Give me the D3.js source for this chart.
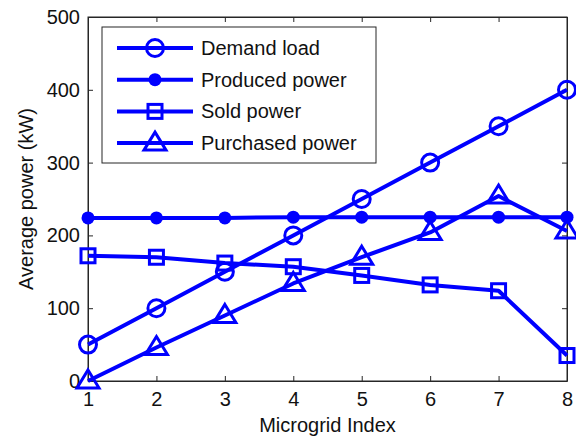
<!DOCTYPE html>
<html>
<head>
<meta charset="utf-8">
<script src="https://cdn.jsdelivr.net/npm/d3@7"></script>
<style>
  body { margin: 0; background: #fff; }
  text { font-family: "Liberation Sans", Arial, sans-serif; }
</style>
</head>
<body>
<svg width="576" height="437"></svg>
<script>
// chart values
const microgrids = [1, 2, 3, 4, 5, 6, 7, 8];
const demandLoad = [50, 100, 150, 200, 250, 300, 350, 400];
const producedPower = [224, 224, 224, 225, 225, 225, 225, 225];
const soldPower = [172, 170, 162, 157, 145, 132, 124, 35];
const purchasedPower = [0, 46, 90, 134, 170, 204, 254, 206];
const yTicks = [0, 100, 200, 300, 400, 500];
const seriesNames = ["Demand load", "Produced power", "Sold power", "Purchased power"];
const seriesMarkers = ["circle", "dot", "square", "triangle"];

const width = 576, height = 437;
const margin = {top: 17, right: 9, bottom: 56, left: 88};
const blue = "#0000ff";
const fontSize = "20px";

const svg = d3.select("svg");

const x = d3.scaleLinear()
    .domain([1, 8])
    .range([margin.left, width - margin.right]);
const y = d3.scaleLinear()
    .domain([0, 500])
    .range([height - margin.bottom, margin.top]);

// box
svg.append("rect")
    .attr("x", x(1)).attr("y", y(500))
    .attr("width", x(8) - x(1)).attr("height", y(0) - y(500))
    .attr("fill", "none").attr("stroke", "#262626").attr("stroke-width", 1);

const xAxis = svg.append("g")
    .attr("transform", `translate(0,${y(0)})`)
    .call(d3.axisBottom(x).tickValues(microgrids).tickFormat(d3.format("d"))
        .tickSizeInner(-5).tickSizeOuter(0).tickPadding(11));
const xAxisTop = svg.append("g")
    .attr("transform", `translate(0,${y(500)})`)
    .call(d3.axisTop(x).tickValues(microgrids).tickSizeInner(-5).tickSizeOuter(0).tickFormat(""));
const yAxis = svg.append("g")
    .attr("transform", `translate(${x(1)},0)`)
    .call(d3.axisLeft(y).tickValues(yTicks).tickFormat(d3.format("d"))
        .tickSizeInner(-5).tickSizeOuter(0).tickPadding(8));
const yAxisRight = svg.append("g")
    .attr("transform", `translate(${x(8)},0)`)
    .call(d3.axisRight(y).tickValues(yTicks).tickSizeInner(-5).tickSizeOuter(0).tickFormat(""));

[xAxis, xAxisTop, yAxis, yAxisRight].forEach(g => {
    g.select(".domain").attr("stroke", "#262626");
    g.selectAll(".tick line").attr("stroke", "#262626");
    g.selectAll(".tick text").attr("fill", "#111").style("font-size", fontSize)
        .style("font-family", "'Liberation Sans', Arial, sans-serif");
});

svg.append("text")
    .attr("x", (x(1) + x(8)) / 2).attr("y", 432)
    .attr("text-anchor", "middle")
    .style("font-size", fontSize).attr("fill", "#111")
    .text("Microgrid Index");

svg.append("text")
    .attr("transform", `translate(33,${(y(0) + y(500)) / 2}) rotate(-90)`)
    .attr("text-anchor", "middle")
    .style("font-size", fontSize).attr("fill", "#111")
    .text("Average power (kW)");

function drawMarker(g, kind, cx, cy) {
    if (kind == "circle") {
        g.append("circle").attr("cx", cx).attr("cy", cy).attr("r", 8.5)
            .attr("fill", "none").attr("stroke", blue).attr("stroke-width", 3);
    } else if (kind == "dot") {
        g.append("circle").attr("cx", cx).attr("cy", cy).attr("r", 6.5)
            .attr("fill", blue);
    } else if (kind == "square") {
        g.append("rect").attr("x", cx - 7).attr("y", cy - 7)
            .attr("width", 14).attr("height", 14)
            .attr("fill", "none").attr("stroke", blue).attr("stroke-width", 3);
    } else {
        g.append("path")
            .attr("d", `M${cx},${cy - 11}L${cx + 11},${cy + 7}L${cx - 11},${cy + 7}Z`)
            .attr("fill", "none").attr("stroke", blue).attr("stroke-width", 3)
            .attr("stroke-linejoin", "miter");
    }
}

const allSeries = [demandLoad, producedPower, soldPower, purchasedPower];
const line = d3.line()
    .x((d, i) => x(microgrids[i]))
    .y(d => y(d));

const plot = svg.append("g");
allSeries.forEach((vals, k) => {
    plot.append("path")
        .datum(vals)
        .attr("d", line)
        .attr("fill", "none")
        .attr("stroke", blue)
        .attr("stroke-width", 4)
        .attr("stroke-linejoin", "round");
    vals.forEach((v, i) => drawMarker(plot, seriesMarkers[k], x(microgrids[i]), y(v)));
});

// legend
const legend = svg.append("g");
legend.append("rect")
    .attr("x", 102).attr("y", 27)
    .attr("width", 274).attr("height", 136)
    .attr("fill", "#fff").attr("stroke", "#262626").attr("stroke-width", 1);

seriesNames.forEach((name, k) => {
    const ly = 48 + k * 31.7;
    legend.append("line")
        .attr("x1", 117).attr("x2", 193)
        .attr("y1", ly).attr("y2", ly)
        .attr("stroke", blue).attr("stroke-width", 4);
    drawMarker(legend, seriesMarkers[k], 155, ly);
    legend.append("text")
        .attr("x", 201).attr("y", ly + 7)
        .style("font-size", fontSize).attr("fill", "#111")
        .text(name);
});
</script>
</body>
</html>
